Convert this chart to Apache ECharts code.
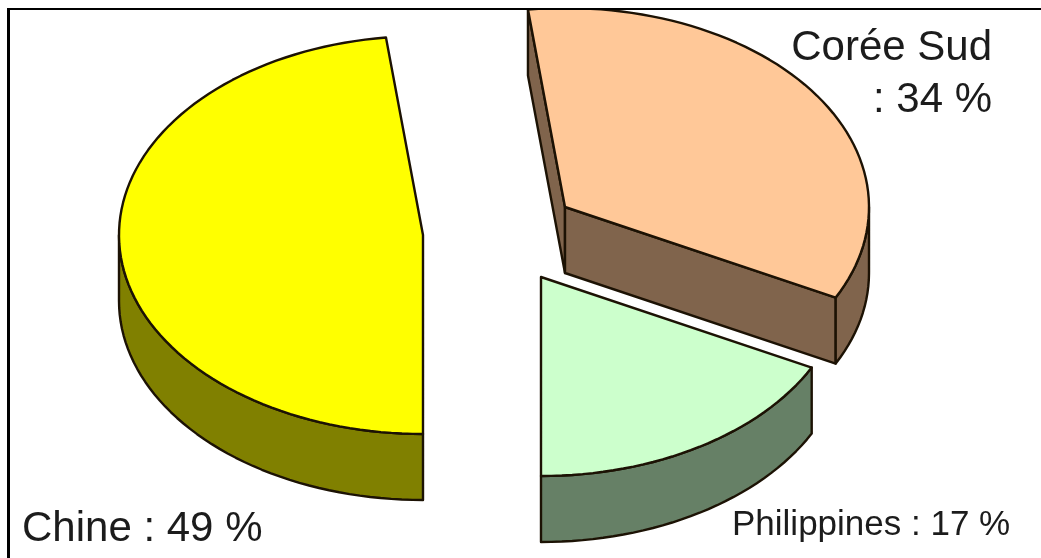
<!DOCTYPE html>
<html>
<head>
<meta charset="utf-8">
<style>
  html, body { margin: 0; padding: 0; background: #fff; }
  #chart { width: 1041px; height: 558px; }
</style>
<script src="https://cdn.jsdelivr.net/npm/echarts@6/dist/echarts.min.js"></script>
</head>
<body>
<div id="chart"></div>
<script>
// Shares per country, in percent, clockwise from the front of the pie
const countries = ['Chine', 'Corée Sud', 'Philippines'];
const shares = [49, 34, 17];

// Appearance of each slice
const topColors = ['#ffff00', '#ffc898', '#ccffcc'];
const sideColors = ['#808000', '#80644c', '#668066'];
const pivotsX = [423, 565, 541];
const pivotsY = [235, 207, 277];

const RADIUS_X = 304;
const RADIUS_Y = 199;
const DEPTH = 66;
const START_ANGLE = 180;
const EDGE = '#1c1204';
const rad = d => d * Math.PI / 180;

// Small angular correction standing in for the camera's perspective
const project = a => a - 3.4 * Math.abs(Math.cos(rad(a / 2)));

function rimPoint(cx, cy, a, drop) {
  return [cx + RADIUS_X * Math.sin(rad(a)), cy - RADIUS_Y * Math.cos(rad(a)) + drop];
}

function arcPoints(cx, cy, from, to, drop) {
  const pts = [];
  const steps = Math.max(2, Math.ceil((to - from) / 2));
  for (let i = 0; i <= steps; i++) {
    pts.push(rimPoint(cx, cy, from + (to - from) * i / steps, drop));
  }
  return pts;
}

function renderSlice(params, api) {
  const i = params.dataIndex;
  const before = shares.slice(0, i).reduce((s, v) => s + v, 0);
  const from = project(START_ANGLE + before * 3.6);
  const to = project(START_ANGLE + (before + api.value(0)) * 3.6);
  const cx = pivotsX[i], cy = pivotsY[i];
  const children = [];
  const face = (points, fill) => children.push({
    type: 'polygon',
    shape: { points },
    style: { fill, stroke: EDGE, lineWidth: 2.4, lineJoin: 'round' }
  });

  // Cut faces that turn towards the viewer
  const wall = a => {
    const p = rimPoint(cx, cy, a, 0);
    face([[cx, cy], p, [p[0], p[1] + DEPTH], [cx, cy + DEPTH]], sideColors[i]);
  };
  if (Math.cos(rad(from - 270)) > 0.01) wall(from);
  if (Math.cos(rad(to - 90)) > 0.01) wall(to);

  // Outer rim on the front half of the ellipse
  [0, 1].forEach(turn => {
    const lo = Math.max(from, 90 + 360 * turn);
    const hi = Math.min(to, 270 + 360 * turn);
    if (hi > lo) {
      face(arcPoints(cx, cy, lo, hi, 0)
        .concat(arcPoints(cx, cy, lo, hi, DEPTH).reverse()), sideColors[i]);
    }
  });

  // Top surface
  face([[cx, cy]].concat(arcPoints(cx, cy, from, to, 0)), topColors[i]);
  return { type: 'group', children };
}

const labelFont = size => ({
  fontFamily: '"Liberation Sans", Arial, sans-serif',
  fontSize: size,
  fill: '#1c1c1c'
});

const chart = echarts.init(document.getElementById('chart'), null, { renderer: 'canvas' });
chart.setOption({
  animation: false,
  backgroundColor: '#ffffff',
  series: [{
    type: 'custom',
    coordinateSystem: 'none',
    silent: true,
    clip: false,
    data: shares.map(v => [v]),
    renderItem: renderSlice
  }],
  graphic: [
    { type: 'rect', z: 100, shape: { x: 0, y: 0, width: 1041, height: 9 }, style: { fill: '#ffffff' } },
    { type: 'rect', z: 101, shape: { x: 8, y: 8, width: 1033, height: 2 }, style: { fill: '#000000' } },
    { type: 'rect', z: 101, shape: { x: 7, y: 8, width: 3, height: 550 }, style: { fill: '#000000' } },
    { type: 'text', z: 102, x: 22, y: 529, style: Object.assign(labelFont(42), {
        text: countries[0] + ' : ' + shares[0] + ' %', align: 'left', verticalAlign: 'middle' }) },
    { type: 'text', z: 102, x: 992, y: 74, style: Object.assign(labelFont(42), {
        text: countries[1] + '\n: ' + shares[1] + ' %', align: 'right', verticalAlign: 'middle', lineHeight: 52 }) },
    { type: 'text', z: 102, x: 732, y: 525, style: Object.assign(labelFont(35), {
        text: countries[2] + ' : ' + shares[2] + ' %', align: 'left', verticalAlign: 'middle' }) }
  ]
});
</script>
</body>
</html>
